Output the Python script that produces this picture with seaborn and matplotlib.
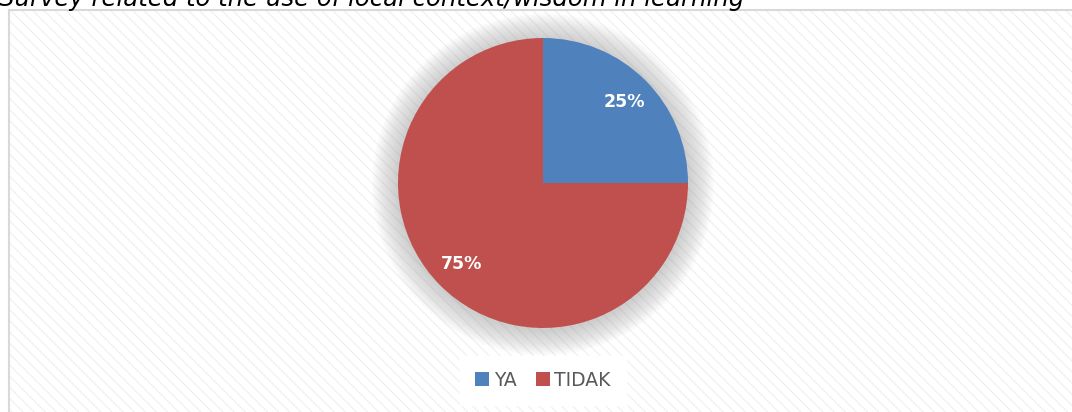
import seaborn as sns
import matplotlib.pyplot as plt
from matplotlib.patches import Rectangle, Circle

labels = ["YA", "TIDAK"]
values = [25, 75]
colors = ["#4F81BD", "#C0504D"]
title = "Survey related to the use of local context/wisdom in learning"

sns.set_theme(style="white")
plt.rcParams['font.family'] = ['DejaVu Sans']
plt.rcParams['hatch.linewidth'] = 0.8

W, H = 1072, 412
fig = plt.figure(figsize=(W / 100, H / 100), dpi=100)

# hatched chart area + thin border (behind the axes)
bg = Rectangle((9 / W, 0), 1.0, 1 - 10 / H, transform=fig.transFigure,
               facecolor="white", edgecolor="#EFEFEF", hatch="\\\\\\", linewidth=0, zorder=-2)
fig.patches.append(bg)
frame = Rectangle((9 / W, -0.01), 1.0, 1 - 10 / H + 0.01, transform=fig.transFigure,
                  facecolor="none", edgecolor="#D9D9D9", linewidth=1.5, zorder=-1)
fig.patches.append(frame)

# clipped title at the top, as in the source
fig.text(-1 / W, 1 - 6 / H, title, fontsize=17.6, style="italic", color="black",
         ha="left", va="baseline")

# pie axes: center (543,183), radius 145 px
r = 145
ax = fig.add_axes([(543 - r) / W, (H - 183 - r) / H, 2 * r / W, 2 * r / H])
ax.set_axis_off()
ax.patch.set_visible(False)

# soft shadow behind the pie
for k in range(20, 0, -1):
    ax.add_patch(Circle((0, -0.01), 1.0 + k * 0.009, color="#909090", alpha=0.022,
                        linewidth=0, clip_on=False, zorder=0))

wedges, texts, autotexts = ax.pie(values, colors=colors, startangle=90, counterclock=False,
                                  autopct="%d%%", pctdistance=0.79,
                                  wedgeprops=dict(linewidth=0),
                                  textprops=dict(color="white", fontsize=12.5, fontweight="bold"))
ax.set_xlim(-1, 1)
ax.set_ylim(-1, 1)
ax.set_aspect("equal")

leg = fig.legend(wedges, labels, loc="center", bbox_to_anchor=(543 / W, 1 - 380 / H),
                 ncol=2, frameon=True, fancybox=False, facecolor="white", edgecolor="white",
                 fontsize=13.5, handlelength=0.75, handleheight=0.75, handletextpad=0.25,
                 columnspacing=1.0, borderpad=0.8, labelcolor="#595959")
leg.get_frame().set_alpha(1)

fig.savefig("out.png", dpi=100)
